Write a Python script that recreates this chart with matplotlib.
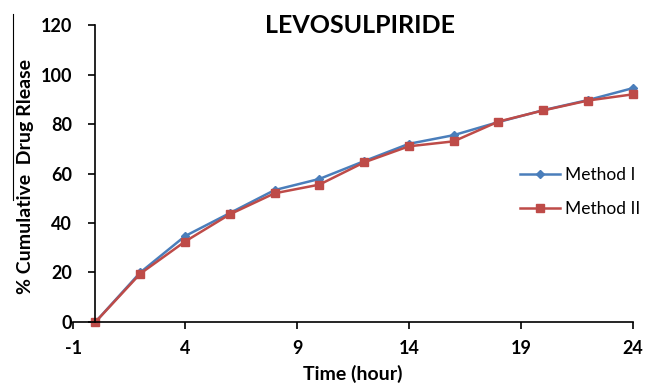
import matplotlib.pyplot as plt
from matplotlib.lines import Line2D

# time points (hours) and % cumulative release
hours = [0, 2, 4, 6, 8, 10, 12, 14, 16, 18, 20, 22, 24]
method_1 = [0, 20, 34.7, 44, 53.3, 57.8, 65, 72, 75.5, 80.8, 85.6, 89.7, 94.5]
method_2 = [0, 19.5, 32.5, 43.5, 52, 55.5, 64.5, 71, 73, 81, 85.5, 89.5, 92]
x_ticks = [-1, 4, 9, 14, 19, 24]
y_ticks = [0, 20, 40, 60, 80, 100, 120]

plt.rcParams['font.family'] = ['Lato', 'DejaVu Sans']
plt.rcParams['axes.unicode_minus'] = False

fig = plt.figure(figsize=(6.47, 3.86), dpi=100)
ax = fig.add_axes([0.113, 0.166, 0.865, 0.769])

ax.plot(hours, method_1, color='#4A7EBB', lw=1.8, marker='D', ms=4, label='Method I')
ax.plot(hours, method_2, color='#BE4B48', lw=1.8, marker='s', ms=6, label='Method II')

ax.set_xlim(-1, 24)
ax.set_ylim(0, 120)
ax.set_xticks(x_ticks)
ax.set_yticks(y_ticks)
ax.spines['top'].set_visible(False)
ax.spines['right'].set_visible(False)
ax.spines['left'].set_position(('data', 0))
ax.spines['left'].set_linewidth(1.2)
ax.spines['bottom'].set_linewidth(1.2)
ax.tick_params(axis='both', direction='out', length=5, width=1.2, labelsize=13)
for lbl in ax.get_xticklabels() + ax.get_yticklabels():
    lbl.set_fontweight('bold')
ax.tick_params(axis='x', pad=8)
ax.tick_params(axis='y', pad=12)
for ln in ax.lines:
    ln.set_clip_on(False)

ax.set_xlabel('Time (hour)', fontsize=14, fontweight='bold', labelpad=6)
fig.text(0.04, 0.544, '% Cumulative  Drug Rlease', rotation=90, fontsize=14,
         fontweight='bold', ha='center', va='center')
fig.add_artist(Line2D([0.02, 0.02], [0.482, 0.964], color='black', lw=0.8))

fig.text(0.557, 0.933, 'LEVOSULPIRIDE', fontsize=18, fontweight='bold', ha='center', va='center')

ax.legend(loc='center left', bbox_to_anchor=(0.78, 0.503), bbox_transform=fig.transFigure,
          frameon=False, fontsize=12.5, handlelength=2.3, handletextpad=0.28,
          labelspacing=1.05)

fig.savefig('out.png', dpi=100)
